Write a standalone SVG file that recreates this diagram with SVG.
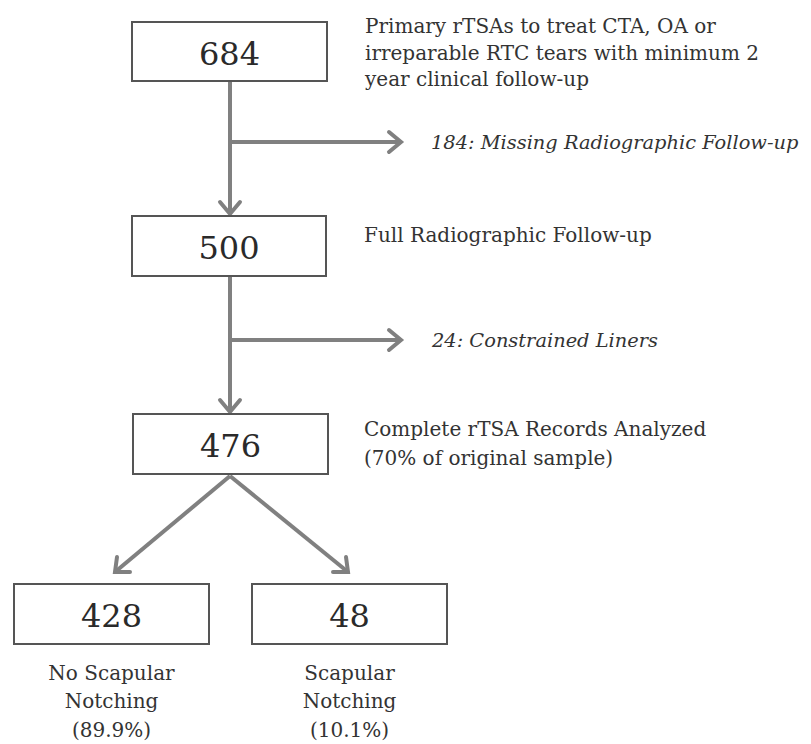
<svg xmlns="http://www.w3.org/2000/svg" width="811" height="744" viewBox="0 0 811 744">
<style>
.box{fill:#fff;stroke:#555;stroke-width:2}
.num{font-family:"DejaVu Serif",serif;font-size:32px;fill:#2a2a2a;text-anchor:middle}
.lbl{font-family:"DejaVu Serif",serif;font-size:20px;fill:#333}
.it{font-style:italic;font-size:19.4px}
.mid{text-anchor:middle}
.ln{stroke:#808080;stroke-width:4;fill:none}
.hd{stroke:#808080;stroke-width:4;fill:none;stroke-linecap:round;stroke-linejoin:miter}
</style>
<rect width="811" height="744" fill="#fff"/>
<g id="connectors">
<line class="ln" x1="230" y1="82" x2="230" y2="214"/>
<polyline class="hd" points="220,202 230,214 240,202"/>
<line class="ln" x1="230" y1="142" x2="401" y2="142"/>
<polyline class="hd" points="389,132 401,142 389,152"/>
<line class="ln" x1="230" y1="277" x2="230" y2="412"/>
<polyline class="hd" points="220,400 230,412 240,400"/>
<line class="ln" x1="230" y1="340" x2="401" y2="340"/>
<polyline class="hd" points="389,330 401,340 389,350"/>
<line class="ln" x1="230" y1="476" x2="115" y2="572"/>
<polyline class="hd" points="117,557 115,572 130,572"/>
<line class="ln" x1="230" y1="476" x2="348" y2="572"/>
<polyline class="hd" points="346,557 348,572 333,572"/>
</g>
<g id="n684">
<rect class="box" x="132" y="22" width="195" height="59"/>
<text class="num" x="229.5" y="65">684</text>
<text class="lbl" x="365" y="33">Primary rTSAs to treat CTA, OA or</text>
<text class="lbl" x="365" y="60">irreparable RTC tears with minimum 2</text>
<text class="lbl" x="365" y="86">year clinical follow-up</text>
</g>
<g id="excl184">
<text class="lbl it" x="431" y="149">184: Missing Radiographic Follow-up</text>
</g>
<g id="n500">
<rect class="box" x="132" y="216" width="194" height="60"/>
<text class="num" x="229" y="259">500</text>
<text class="lbl" x="364" y="242">Full Radiographic Follow-up</text>
</g>
<g id="excl24">
<text class="lbl it" x="432" y="347">24: Constrained Liners</text>
</g>
<g id="n476">
<rect class="box" x="133" y="414" width="195" height="60"/>
<text class="num" x="230.5" y="457">476</text>
<text class="lbl" x="364" y="436">Complete rTSA Records Analyzed</text>
<text class="lbl" x="364" y="465">(70% of original sample)</text>
</g>
<g id="n428">
<rect class="box" x="14" y="584" width="195" height="60"/>
<text class="num" x="111.5" y="627">428</text>
<text class="lbl mid" x="111.5" y="680">No Scapular</text>
<text class="lbl mid" x="111.5" y="708">Notching</text>
<text class="lbl mid" x="111.5" y="737">(89.9%)</text>
</g>
<g id="n48">
<rect class="box" x="252" y="584" width="195" height="60"/>
<text class="num" x="349.5" y="627">48</text>
<text class="lbl mid" x="349.5" y="680">Scapular</text>
<text class="lbl mid" x="349.5" y="708">Notching</text>
<text class="lbl mid" x="349.5" y="737">(10.1%)</text>
</g>
</svg>
